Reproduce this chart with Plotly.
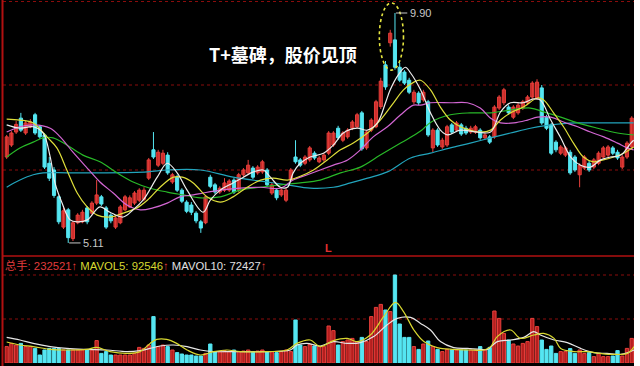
import plotly.graph_objects as go

W, H = 640, 366

# ---------------- data ----------------
opens = [6.90,7.15,7.42,7.71,7.40,7.53,7.78,7.53,7.36,6.77,6.63,6.07,5.44,5.80,5.20,5.53,5.55,5.84,5.73,5.94,
         6.07,5.84,5.69,5.44,5.53,5.80,5.86,5.94,6.00,6.02,6.46,7.05,6.73,6.77,6.94,6.38,6.48,6.21,5.96,5.90,
         5.73,5.55,5.53,6.48,6.32,6.17,6.21,6.21,6.42,6.21,6.53,6.57,6.67,6.57,6.59,6.63,6.15,6.21,6.11,6.00,
         6.42,6.90,6.84,6.77,6.84,6.98,6.80,6.84,6.98,7.15,7.50,7.25,7.32,7.50,7.53,7.82,7.09,7.46,7.53,7.95,
         8.82,9.28,9.34,8.77,8.67,8.50,8.05,8.23,8.09,8.05,7.09,7.46,7.11,7.15,7.57,7.46,7.57,7.50,7.42,7.42,
         7.46,7.30,7.32,7.32,7.92,8.03,7.94,7.73,7.82,7.92,8.03,8.15,8.13,8.34,7.73,7.57,7.21,6.98,6.94,7.00,
         6.90,6.53,6.67,6.77,6.69,6.77,6.90,6.94,7.09,7.00,6.69,6.90,7.11]
highs = [7.36,7.44,7.65,7.82,7.65,7.69,7.82,7.57,7.40,6.90,6.69,6.10,5.84,5.84,5.57,5.73,5.80,5.88,5.98,6.42,
         6.11,5.88,5.73,5.67,5.90,6.11,6.10,6.19,6.25,6.27,6.88,7.42,7.05,7.05,7.00,6.57,6.53,6.25,6.00,5.96,
         5.77,5.59,6.11,6.53,6.36,6.29,6.46,6.44,6.46,6.57,6.67,6.84,6.71,6.73,6.84,6.67,6.36,6.25,6.25,6.25,
         6.67,7.25,6.88,6.94,7.13,7.02,6.92,6.98,7.44,7.44,7.55,7.44,7.50,7.67,7.82,7.86,7.46,7.71,8.09,8.55,
         8.90,9.55,9.90,8.86,8.71,8.55,8.30,8.27,8.30,8.09,7.50,7.50,7.30,7.57,7.61,7.65,7.61,7.55,7.55,7.57,
         7.50,7.40,7.36,7.98,8.19,8.34,7.98,7.98,8.03,8.09,8.19,8.48,8.52,8.40,7.78,7.61,7.25,7.15,7.13,7.05,
         6.94,6.77,6.94,6.82,6.88,7.02,7.13,7.15,7.13,7.05,6.94,7.23,7.75]
lows = [6.86,7.11,7.38,7.42,7.36,7.50,7.36,7.28,6.65,6.40,6.05,5.50,5.40,5.11,5.15,5.50,5.52,5.50,5.70,5.90,
        5.88,5.40,5.52,5.40,5.50,5.77,5.84,5.90,5.96,5.98,6.42,6.86,6.69,6.73,6.53,6.34,6.17,5.94,5.73,5.69,
        5.52,5.32,5.50,6.25,6.13,6.13,6.17,6.17,6.13,6.17,6.48,6.53,6.44,6.53,6.55,6.29,6.11,6.00,6.07,5.96,
        6.38,6.76,6.69,6.73,6.80,6.84,6.77,6.80,6.94,7.11,7.26,7.21,7.28,7.46,7.50,7.03,7.05,7.42,7.50,7.90,
        8.30,9.20,8.72,8.46,8.40,8.21,8.00,7.98,8.05,7.32,7.00,7.11,7.07,7.11,7.38,7.42,7.34,7.36,7.38,7.38,
        7.26,7.26,7.17,7.28,7.88,7.98,7.78,7.69,7.78,7.88,7.98,8.11,8.09,7.57,7.46,6.94,7.00,6.94,6.90,6.53,
        6.59,6.27,6.63,6.59,6.65,6.73,6.86,6.90,6.94,6.84,6.65,6.86,7.07]
closes = [7.32,7.40,7.58,7.46,7.61,7.63,7.40,7.32,6.69,6.46,6.10,5.55,5.78,5.22,5.53,5.69,5.75,5.55,5.94,6.11,
          5.92,5.44,5.57,5.63,5.86,6.07,6.05,6.15,6.21,6.21,6.84,6.90,7.00,6.98,6.57,6.53,6.21,5.98,5.77,5.75,
          5.57,5.42,6.07,6.29,6.17,6.25,6.36,6.40,6.17,6.53,6.63,6.73,6.48,6.69,6.80,6.32,6.32,6.05,6.21,6.21,
          6.63,6.80,6.73,6.90,7.09,6.88,6.88,6.94,7.40,7.40,7.30,7.40,7.46,7.63,7.78,7.07,7.42,7.67,8.05,8.48,
          8.36,9.48,8.77,8.50,8.44,8.25,8.25,8.03,8.25,7.36,7.46,7.15,7.25,7.53,7.42,7.61,7.38,7.40,7.50,7.53,
          7.30,7.36,7.21,7.94,8.15,8.30,7.82,7.94,7.98,8.05,8.15,8.44,8.46,7.61,7.50,6.98,7.05,7.11,7.09,6.57,
          6.63,6.73,6.90,6.63,6.84,6.98,7.09,7.11,6.98,6.88,6.90,7.19,7.71]
# volume, thousand lots
volumes = [82,98,90,98,82,82,73,40,65,73,73,73,65,65,65,65,65,65,65,112,
           48,57,40,40,40,40,40,48,78,73,90,232,82,90,82,65,52,45,40,40,
           35,35,48,95,57,57,62,57,65,57,60,65,57,60,65,57,57,52,57,65,
           57,215,90,82,93,85,82,82,185,162,90,107,115,123,107,128,107,232,278,293,
           265,257,440,195,128,128,82,68,95,110,82,68,57,68,65,65,65,65,65,65,
           82,65,78,260,223,148,115,95,85,98,107,223,182,115,68,85,48,57,57,72,
           48,65,48,52,32,48,32,32,35,62,35,73,123]

# price moving averages (x = bar index)
ma5_x = [0,2.8,5.6,7.7,9.2,10.2,11.7,13.4,14.9,17,19.7,21.8,24.6,26.7,28.8,31.8,33.9,36,38.1,41.5,
         43,45.1,47.8,50,52.1,54.2,55.7,57.8,59.3,60.5,62,64.1,66.9,69,71.1,74,76.2,78.3,80,81,
         82.7,84.2,85.3,87.4,89.5,91.6,93.1,95.8,99.4,102.2,104.3,106.4,109.1,111.3,112.7,114.9,117,119.1,121.2,123.3,
         125.4,127.5,129.7,131.8,132.4]
ma5_y = [7.57,7.50,7.53,7.40,6.90,6.36,5.94,5.59,5.55,5.59,5.86,5.75,5.65,5.80,6.00,6.48,6.77,6.57,6.21,5.75,
         6.00,6.21,6.36,6.48,6.59,6.63,6.48,6.27,6.27,6.57,6.77,6.90,6.98,7.15,7.40,7.50,7.46,7.61,8.03,8.30,
         8.61,8.77,8.65,8.30,7.82,7.46,7.36,7.46,7.42,7.42,7.84,8.03,8.03,8.11,8.09,7.67,7.30,6.90,6.73,6.69,
         6.84,6.90,6.94,7.19,7.25]
ma10_x = [0,2.8,5.6,8.5,10.6,12.7,14.9,17,19.1,21.8,24.6,27.5,29.7,32.4,35.2,37.1,39.4,42.3,45.1,47.8,
          50.8,53.6,56.3,59.3,62,64.8,67.7,70.5,73.2,76.2,78.9,81.7,83.8,86,87.4,89.5,91.6,93.7,95.8,97.9,
          100,102.2,104.3,106.4,109.1,112.1,113.4,115.5,117.6,119.7,121.8,123.9,126,128.2,130.3,132.4]
ma10_y = [7.69,7.67,7.61,7.32,7.09,6.63,6.15,5.86,5.69,5.65,5.73,5.84,6.00,6.27,6.48,6.48,6.36,6.07,5.96,6.07,
          6.27,6.42,6.46,6.42,6.50,6.63,6.84,7.05,7.19,7.40,7.67,8.03,8.30,8.46,8.50,8.30,7.94,7.67,7.53,7.46,
          7.42,7.46,7.67,7.82,7.94,8.13,8.09,7.82,7.53,7.19,6.90,6.80,6.84,6.90,6.98,7.11]
ma20_x = [0,2.8,5.6,9.2,11.3,14,17,19.7,22.5,25.4,28.2,30.9,33.9,36.6,39.4,41.5,45.1,49.3,53.6,57.8,
          60.5,63.5,66.2,69,72,74.7,77.4,80.4,83.2,85.9,87.4,89.5,93.7,97.3,100,102.2,104.3,107.1,110,112.1,
          114.9,117.6,120.6,123.3,126.1,129,131.1,132.4]
ma20_y = [7.42,7.53,7.57,7.50,7.32,7.00,6.67,6.38,6.15,5.90,5.80,5.84,5.94,6.07,6.11,6.15,6.21,6.25,6.27,6.25,
          6.42,6.53,6.63,6.73,6.84,7.05,7.32,7.53,7.78,7.98,7.98,8.03,8.03,8.03,7.92,7.71,7.61,7.61,7.67,7.73,
          7.73,7.63,7.53,7.42,7.32,7.19,7.09,7.05]
ma30_x = [0,2.8,5.6,7.7,9.8,12.7,16.1,19.7,23.3,26.7,30.3,33.9,37.3,40.9,45.1,49.3,53.6,57.8,62,66.2,
          70.5,74.7,78.9,83.2,87.4,89.5,93.7,97.9,102.2,106.4,110.6,113.4,117,120.6,124.8,129,132.4]
ma30_y = [6.90,7.09,7.21,7.30,7.30,7.15,6.94,6.80,6.57,6.38,6.25,6.17,6.11,6.05,6.07,6.21,6.27,6.32,6.36,6.42,
          6.57,6.69,6.94,7.19,7.44,7.62,7.78,7.82,7.82,7.88,7.92,7.84,7.73,7.61,7.50,7.40,7.36]
ma60_x = [0,2.8,5.6,7.7,12.7,19.7,29.7,33.9,40.9,47.8,55,59.3,64.1,69,72.6,76.2,80.4,85.3,89.5,93.7,
          97.9,102.2,106.4,110.6,113.4,117,120.6,125.4,132.4]
ma60_y = [6.27,6.42,6.53,6.57,6.57,6.57,6.59,6.63,6.63,6.48,6.38,6.32,6.25,6.27,6.36,6.46,6.59,6.88,6.98,7.09,
          7.19,7.30,7.40,7.50,7.55,7.59,7.61,7.61,7.61]

# volume moving averages (thousand lots)
vma5_x = [0,2.8,5.6,9.2,12.7,16.9,19,21.8,25.4,28.2,30.3,31.7,33.8,35.9,38.1,40.9,43.7,46.5,49.3,55,
          59.2,61.3,64.1,66.2,69,71.9,74,76.8,79.6,82.1,83.8,86,88.1,90.9,94.4,97.9,100.8,102.2,103.6,106.4,
          108.5,111.3,113.4,115.6,117,119.8,122.6,125.4,128.2,131.1,132.5]
vma5_y = [105,90,82,68,65,68,78,57,48,57,98,118,118,98,65,40,57,65,57,57,
          65,98,115,82,112,123,107,140,232,303,257,165,107,77,68,65,65,82,132,165,
          123,140,148,123,73,57,57,48,43,48,82]
vma10_x = [0,2.8,5.6,9.2,12.7,16.9,21.1,25.4,28.2,30.3,32.4,35.2,38.1,40.9,43.7,47.9,55,59.9,61.3,63.4,
           66.2,69,71.9,74.7,77.5,80.3,82.5,85.3,87.4,89.5,91.6,94.4,97.3,100,101.5,103.6,106.4,109.2,111.3,112.7,
           115.6,118.4,121.2,124,126.8,129.7,132.5]
vma10_y = [128,115,98,82,73,68,65,57,62,73,85,90,82,65,57,57,57,65,90,98,
           85,107,98,102,132,190,223,228,198,165,107,77,73,68,68,107,115,128,157,140,
           115,102,73,52,48,43,65]

# ---------------- style ----------------
UP_LINE, UP_FILL = "#e8403c", "#b51e1e"
DOWN = "#55e6f2"
MA_COLORS = ["#ececec", "#dede3a", "#d266d2", "#28b828", "#22a4bc"]
GRID = "#8a0c0c"
FRAME = "#b01010"

N = len(opens)
idx = list(range(N))
up = [i for i in idx if closes[i] >= opens[i]]
dn = [i for i in idx if closes[i] < opens[i]]


def px_x(p):
    return p / W


def px_y(p):
    return 1 - p / H


fig = go.Figure()

# wicks
for ids, col in ((up, UP_LINE), (dn, DOWN)):
    xs, ys = [], []
    for i in ids:
        xs += [i, i, None]
        ys += [lows[i], highs[i], None]
    fig.add_trace(go.Scatter(x=xs, y=ys, mode="lines", line=dict(color=col, width=1),
                             hoverinfo="skip", showlegend=False))

# bodies
for ids, fill, line in ((up, UP_FILL, UP_LINE), (dn, DOWN, DOWN)):
    fig.add_trace(go.Bar(
        x=ids,
        y=[max(abs(closes[i] - opens[i]), 0.02) for i in ids],
        base=[min(closes[i], opens[i]) for i in ids],
        width=0.66, marker=dict(color=fill, line=dict(color=line, width=1)),
        showlegend=False))

# price MAs
for (mx, my), col in zip(((ma60_x, ma60_y), (ma30_x, ma30_y), (ma20_x, ma20_y),
                          (ma10_x, ma10_y), (ma5_x, ma5_y)),
                         [MA_COLORS[4], MA_COLORS[3], MA_COLORS[2], MA_COLORS[1], MA_COLORS[0]]):
    fig.add_trace(go.Scatter(x=mx, y=my, mode="lines",
                             line=dict(color=col, width=1.2, shape="spline", smoothing=1.0),
                             showlegend=False, hoverinfo="skip"))

# volume bars
for ids, fill, line in ((up, UP_FILL, UP_LINE), (dn, DOWN, DOWN)):
    fig.add_trace(go.Bar(x=ids, y=[volumes[i] for i in ids], yaxis="y2",
                         width=0.7, marker=dict(color=fill, line=dict(color=line, width=1)),
                         showlegend=False))

# volume MAs
fig.add_trace(go.Scatter(x=vma10_x, y=vma10_y, yaxis="y2", mode="lines",
                         line=dict(color="#e6e6e6", width=1.2, shape="spline", smoothing=1.0),
                         showlegend=False))
fig.add_trace(go.Scatter(x=vma5_x, y=vma5_y, yaxis="y2", mode="lines",
                         line=dict(color="#d8d830", width=1.2, shape="spline", smoothing=1.0),
                         showlegend=False))

shapes = []
# right white margin
shapes.append(dict(type="rect", xref="paper", yref="paper", x0=px_x(634), x1=1, y0=0, y1=1,
                   fillcolor="white", line=dict(width=0), layer="above"))
# left frame line
shapes.append(dict(type="line", xref="paper", yref="paper", x0=px_x(2.5), x1=px_x(2.5), y0=0, y1=1,
                   line=dict(color=FRAME, width=2)))
# separator
shapes.append(dict(type="line", xref="paper", yref="paper", x0=px_x(3), x1=px_x(634),
                   y0=px_y(256), y1=px_y(256), line=dict(color=FRAME, width=1.5)))
# dotted grid lines
for py in (1.5, 85, 170, 275, 319):
    shapes.append(dict(type="line", xref="paper", yref="paper", x0=px_x(3), x1=px_x(634),
                       y0=px_y(py), y1=px_y(py), line=dict(color=GRID, width=1, dash="dot"),
                       layer="below"))
# ellipse around the top
shapes.append(dict(type="circle", xref="x", yref="y", x0=78.7, x1=83.8, y0=8.71, y1=10.11,
                   line=dict(color="#e6e640", width=1.6, dash="dot")))
# price labels leader lines
shapes.append(dict(type="line", xref="x", yref="y", x0=82.2, x1=84.6, y0=9.90, y1=9.90,
                   line=dict(color="#c8c8c8", width=1)))
shapes.append(dict(type="line", xref="x", yref="y", x0=13.2, x1=15.6, y0=5.11, y1=5.11,
                   line=dict(color="#c8c8c8", width=1)))

annotations = [
    dict(text="<b>T+墓碑，股价见顶</b>", xref="paper", yref="paper", x=px_x(283), y=px_y(39),
         showarrow=False, font=dict(family="Noto Sans CJK SC", size=18, color="white")),
    dict(text="9.90", xref="x", yref="y", x=84.8, y=9.90, xanchor="left", showarrow=False,
         font=dict(family="Liberation Sans", size=11, color="#c8c8c8")),
    dict(text="5.11", xref="x", yref="y", x=15.8, y=5.11, xanchor="left", showarrow=False,
         font=dict(family="Liberation Sans", size=11, color="#c8c8c8")),
    dict(text="<b>L</b>", xref="x", yref="y", x=68, y=5.00, showarrow=False,
         font=dict(family="Liberation Sans", size=11, color="#e03030")),
    dict(text='<span style="color:#e03c3c">总手: 232521↑</span> '
              '<span style="color:#d8d830">MAVOL5: 92546</span><span style="color:#e03c3c">↑</span> '
              '<span style="color:#e0e0e0">MAVOL10: 72427</span><span style="color:#e03c3c">↑</span>',
         xref="paper", yref="paper", x=px_x(3), y=px_y(265), xanchor="left", yanchor="middle",
         showarrow=False, font=dict(family="Liberation Sans, Noto Sans CJK SC", size=11.3)),
]

fig.update_layout(
    width=W, height=H, margin=dict(l=0, r=0, t=0, b=0),
    paper_bgcolor="black", plot_bgcolor="black",
    barmode="overlay", showlegend=False, hovermode=False,
    xaxis=dict(domain=[px_x(4.3), px_x(634.1)], range=[-0.5, N - 0.5], visible=False,
               anchor="y", fixedrange=True),
    yaxis=dict(domain=[px_y(250), 1], range=[4.963, 10.171], visible=False, fixedrange=True),
    yaxis2=dict(domain=[px_y(363), px_y(257)], range=[0, 530], visible=False,
                anchor="x", fixedrange=True),
    shapes=shapes, annotations=annotations,
)

fig.write_html("out.html")
